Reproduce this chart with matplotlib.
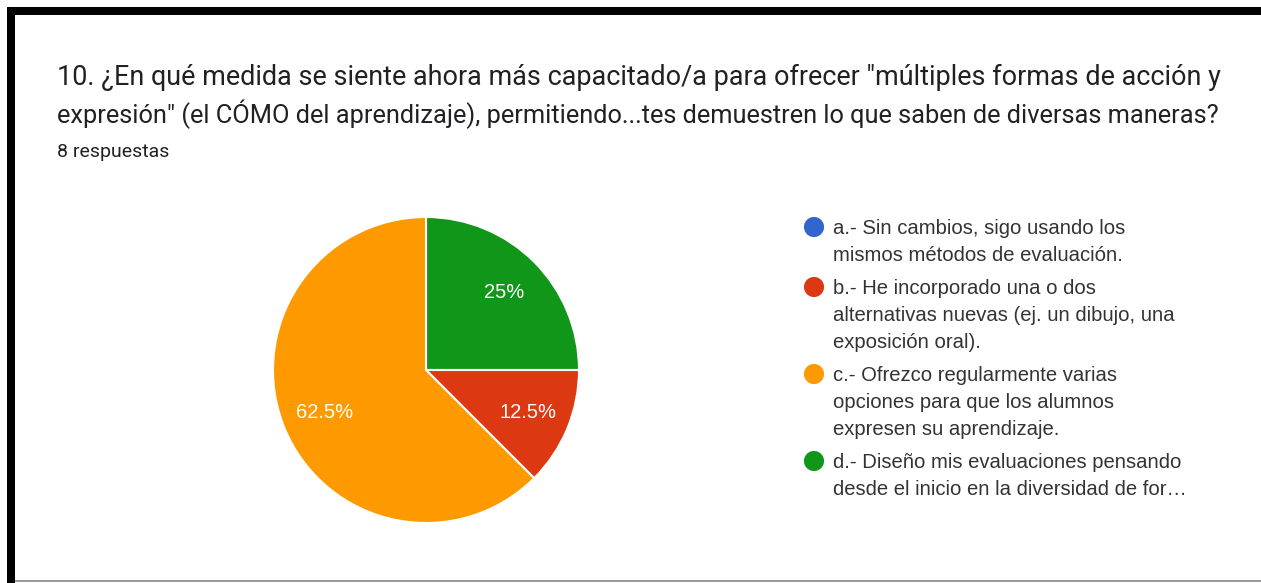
#!/usr/bin/env python3
"""Google Forms style pie: question 10, 8 respuestas"""

import matplotlib.pyplot as plt
from matplotlib.patches import Rectangle

# data
title_lines = [
    '10. ¿En qué medida se siente ahora más capacitado/a para ofrecer "múltiples formas de acción y',
    'expresión" (el CÓMO del aprendizaje), permitiendo...tes demuestren lo que saben de diversas maneras?',
]
subtitle = "8 respuestas"
options = [
    ["a.- Sin cambios, sigo usando los", "mismos métodos de evaluación."],
    ["b.- He incorporado una o dos", "alternativas nuevas (ej. un dibujo, una", "exposición oral)."],
    ["c.- Ofrezco regularmente varias", "opciones para que los alumnos", "expresen su aprendizaje."],
    ["d.- Diseño mis evaluaciones pensando", "desde el inicio en la diversidad de for…"],
]
counts = [0, 1, 5, 2]
colors = ["#3366CC", "#DC3912", "#FF9900", "#109618"]
pie_order = [3, 1, 2]  # drawn clockwise from the top, as in the form

W, H = 1261, 583
fig = plt.figure(figsize=(W / 100, H / 100), dpi=100)
fig.patch.set_facecolor("white")

# overlay axes in pixel coordinates
ov = fig.add_axes([0, 0, 1, 1])
ov.set_xlim(0, W)
ov.set_ylim(H, 0)
ov.axis("off")

# frame: thick black top/left, thin grey bottom
ov.add_patch(Rectangle((7, 7), W - 7, 8, color="black", lw=0))
ov.add_patch(Rectangle((7, 7), 8, H - 7, color="black", lw=0))
ov.add_patch(Rectangle((15, 580), W - 15, 2, color="#9a9a9a", lw=0))

# title, each line fitted to the same right edge
renderer = fig.canvas.get_renderer()
for i, line in enumerate(title_lines):
    t = ov.text(57, 85 + i * 38, line, fontsize=18, family="Roboto",
                color="#202124", va="baseline", ha="left")
    w = t.get_window_extent(renderer).width
    t.set_fontsize(18 * 1165 / w)
ov.text(57, 157, subtitle, fontsize=14, family="Roboto",
        color="#202124", va="baseline", ha="left")

# pie
cx, cy, r = 426, 370, 153
pr = r * 1.01
pax = fig.add_axes([(cx - pr) / W, (H - cy - pr) / H, 2 * pr / W, 2 * pr / H])
vals = [counts[i] for i in pie_order]
total = sum(counts)
wedges, texts = pax.pie(
    vals,
    colors=[colors[i] for i in pie_order],
    startangle=90,
    counterclock=False,
    labels=[f"{v / total * 100:g}%" for v in vals],
    labeldistance=0.72,
    wedgeprops=dict(edgecolor="white", linewidth=1.5),
    textprops=dict(color="white", fontsize=14.5, family="Liberation Sans"),
)
for t in texts:
    t.set_ha("center")
    t.set_va("center")
pax.set_xlim(-1.01, 1.01)
pax.set_ylim(-1.01, 1.01)
pax.set_aspect("equal")
pax.axis("off")

# legend
y = 234
for opt, col in zip(options, colors):
    ov.scatter([814], [y - 7], s=210, color=col, edgecolors="none")
    for j, line in enumerate(opt):
        ov.text(833, y + j * 27, line, fontsize=14.6, family="Liberation Sans",
                color="#333333", va="baseline", ha="left")
    y += (len(opt) - 1) * 27 + 33

fig.savefig("out.png", dpi=100)
